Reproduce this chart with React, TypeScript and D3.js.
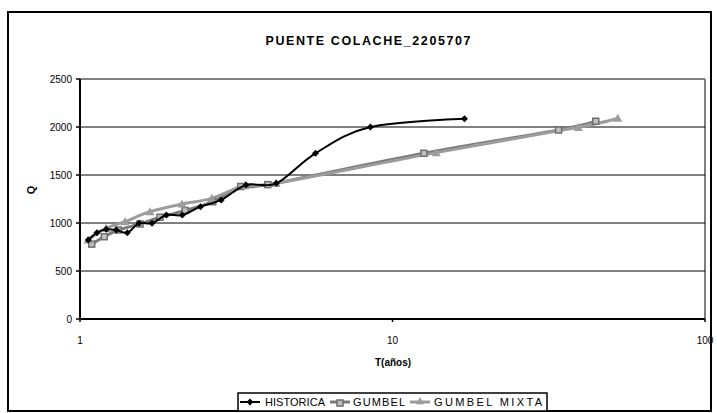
import React from "react";
import * as d3 from "d3";

const histT = [1.0625, 1.133, 1.214, 1.308, 1.417, 1.545, 1.7, 1.89, 2.125, 2.43, 2.83, 3.4, 4.25, 5.67, 8.5, 17];
const histQ = [823, 899, 934, 927, 899, 997, 997, 1083, 1083, 1170, 1240, 1396, 1413, 1726, 2000, 2087];

const gumT = [1.09, 1.196, 1.326, 1.556, 1.803, 2.17, 2.66, 3.27, 3.99, 12.6, 34.0, 44.7];
const gumQ = [780, 857, 927, 990, 1060, 1130, 1222, 1380, 1400, 1726, 1969, 2060];

const mixT = [1.061, 1.211, 1.393, 1.675, 2.12, 2.64, 3.37, 4.24, 13.8, 39.3, 52.6];
const mixQ = [823, 945, 1014, 1118, 1198, 1257, 1390, 1413, 1733, 1997, 2091];

const yTicks = [0, 500, 1000, 1500, 2000, 2500];
const xTicks = [1, 10, 100];
const seriesNames = ["HISTORICA", "GUMBEL", "GUMBEL MIXTA"];

const W = 717;
const H = 413;
const left = 80, right = 705, top = 79, bottom = 319;
const FONT = "'Liberation Sans', Arial, sans-serif";

export default function App() {
  const x = d3.scaleLog().domain([1, 100]).range([left, right]);
  const y = d3.scaleLinear().domain([0, 2500]).range([bottom, top]);
  const line = d3
    .line<[number, number]>()
    .x((d) => x(d[0]))
    .y((d) => y(d[1]))
    .curve(d3.curveCardinal.tension(0));
  const hist = histT.map((t, i) => [t, histQ[i]] as [number, number]);
  const gum = gumT.map((t, i) => [t, gumQ[i]] as [number, number]);
  const mix = mixT.map((t, i) => [t, mixQ[i]] as [number, number]);

  const diamond = (cx: number, cy: number, s = 3.5) =>
    `M${cx},${cy - s}L${cx + s},${cy}L${cx},${cy + s}L${cx - s},${cy}Z`;
  const tri = (cx: number, cy: number, s = 4.5) =>
    `M${cx},${cy - s}L${cx + s},${cy + s * 0.8}L${cx - s},${cy + s * 0.8}Z`;

  const legY = 402;
  return (
    <svg width={W} height={H} style={{ position: "absolute", left: 0, top: 0 }} fontFamily={FONT}>
      <rect x={0} y={0} width={W} height={H} fill="#fff" />
      <rect x={8} y={12} width={703} height={399} fill="none" stroke="#000" strokeWidth={2} />
      <text x={368} y={45} textAnchor="middle" fontWeight="bold" fontSize={12.5} textLength={205} lengthAdjust="spacing">
        PUENTE COLACHE_2205707
      </text>
      {/* plot border */}
      <line x1={left} x2={right} y1={top} y2={top} stroke="#808080" strokeWidth={2} />
      <line x1={right} x2={right} y1={top} y2={bottom} stroke="#808080" strokeWidth={2} />
      {yTicks.filter((v) => v > 0 && v < 2500).map((v) => (
        <line key={v} x1={left} x2={right} y1={y(v)} y2={y(v)} stroke="#000" strokeWidth={1} />
      ))}
      <line x1={left} x2={left} y1={top} y2={bottom} stroke="#000" strokeWidth={2} />
      <line x1={left} x2={right} y1={bottom} y2={bottom} stroke="#000" strokeWidth={2} />
      {yTicks.map((v) => (
        <g key={v}>
          <line x1={left - 4} x2={left} y1={y(v)} y2={y(v)} stroke="#000" strokeWidth={1.5} />
          <text x={72} y={y(v) + 3.5} textAnchor="end" fontSize={10}>{v}</text>
        </g>
      ))}
      {xTicks.map((v) => (
        <g key={v}>
          <line x1={x(v)} x2={x(v)} y1={bottom} y2={bottom + 3} stroke="#000" strokeWidth={1.5} />
          <text x={x(v)} y={344} textAnchor="middle" fontSize={10}>{v}</text>
        </g>
      ))}
      <text x={393} y={366} textAnchor="middle" fontWeight="bold" fontSize={10}>T(años)</text>
      <text transform="translate(35,190) rotate(-90)" textAnchor="middle" fontWeight="bold" fontSize={11}>Q</text>

      {/* series */}
      <path d={line(gum) || ""} fill="none" stroke="#7a7a7a" strokeWidth={3} />
      <path d={line(mix) || ""} fill="none" stroke="#9c9c9c" strokeWidth={3} />
      {gum.map((d, i) => (
        <rect key={i} x={x(d[0]) - 3} y={y(d[1]) - 3} width={6} height={6} fill="#c0c0c0" stroke="#6e6e6e" strokeWidth={1.5} />
      ))}
      {mix.map((d, i) => (
        <path key={i} d={tri(x(d[0]), y(d[1]))} fill="#9c9c9c" />
      ))}
      <path d={line(hist) || ""} fill="none" stroke="#000" strokeWidth={2} />
      {hist.map((d, i) => (
        <path key={i} d={diamond(x(d[0]), y(d[1]))} fill="#000" />
      ))}

      {/* legend */}
      <rect x={238} y={393} width={309} height={18} fill="#fff" stroke="#000" strokeWidth={1.5} />
      <line x1={240} x2={260} y1={legY} y2={legY} stroke="#000" strokeWidth={2} />
      <path d={diamond(250, legY)} fill="#000" />
      <text x={265} y={legY + 4} fontSize={11} textLength={60} lengthAdjust="spacing">{seriesNames[0]}</text>
      <line x1={330} x2={350} y1={legY} y2={legY} stroke="#7a7a7a" strokeWidth={3} />
      <rect x={337} y={legY - 2} width={6} height={6} fill="#c0c0c0" stroke="#6e6e6e" strokeWidth={1.5} />
      <text x={353} y={legY + 4} fontSize={11} textLength={52} lengthAdjust="spacing">{seriesNames[1]}</text>
      <line x1={410} x2={430} y1={legY} y2={legY} stroke="#9c9c9c" strokeWidth={3} />
      <path d={tri(420, legY - 1, 4)} fill="#9c9c9c" />
      <text x={434} y={legY + 4} fontSize={11} textLength={108} lengthAdjust="spacing">{seriesNames[2]}</text>
    </svg>
  );
}
